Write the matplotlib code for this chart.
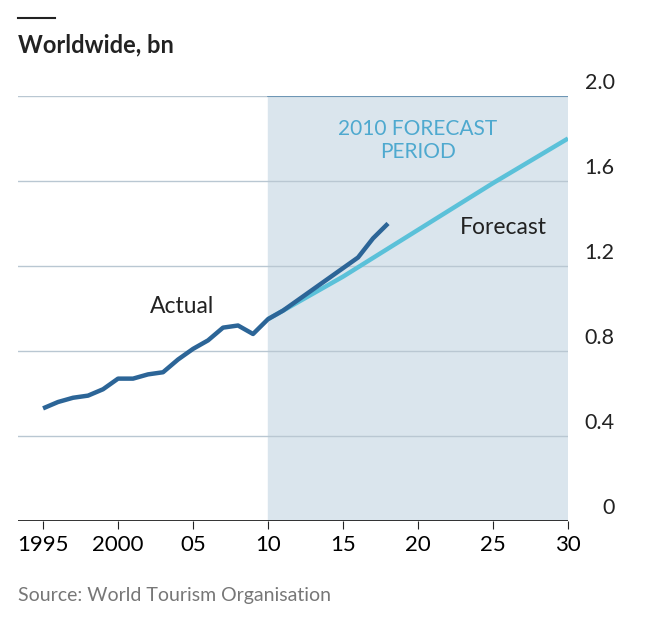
import matplotlib.pyplot as plt

actual_years = list(range(1995, 2019))
actual = [0.53, 0.56, 0.58, 0.59, 0.62, 0.67, 0.67, 0.69, 0.70, 0.76, 0.81, 0.85, 0.91, 0.92, 0.88, 0.95, 0.99, 1.04, 1.09, 1.14, 1.19, 1.24, 1.33, 1.40]
fc_years = [2010, 2015, 2020, 2025, 2030]
forecast = [0.95, 1.15, 1.37, 1.59, 1.80]
yticks = [0, 0.4, 0.8, 1.2, 1.6, 2.0]
ylabels = ["0", "0.4", "0.8", "1.2", "1.6", "2.0"]
xticks = [1995, 2000, 2005, 2010, 2015, 2020, 2025, 2030]
xlabels = ["1995", "2000", "05", "10", "15", "20", "25", "30"]

plt.rcParams['font.family'] = ['Lato', 'DejaVu Sans']
fig = plt.figure(figsize=(6.68, 6.22), dpi=100)
ax = fig.add_axes([18/668, 1-521/622, 550/668, 425/622])
ax.set_xlim(1993.33, 2030)
ax.set_ylim(0, 2.0)

ax.axvspan(2010, 2030, color='#dae5ed', zorder=0)
for y in yticks[1:]:
    ax.axhline(y, color='#b9c7d2', lw=1, zorder=1)
ax.plot([2010, 2030], [2.0, 2.0], color='#5f8db0', lw=1.2, zorder=2)
ax.axhline(0, color='#222222', lw=1.3, zorder=3)

ax.plot(fc_years, forecast, color='#5bc1d9', lw=3.2, zorder=4, solid_capstyle='butt')
ax.plot(actual_years, actual, color='#2c6597', lw=3.2, zorder=5, solid_capstyle='butt')

for y, l in zip(yticks, ylabels):
    ax.text(1.085, y + 0.015, l, transform=ax.get_yaxis_transform(), ha='right', va='bottom',
            fontsize=15.5, color='#222222')

ax.set_xticks(xticks)
ax.set_xticklabels(xlabels, fontsize=16)
ax.tick_params(axis='x', length=6, color='#222222', pad=4)
ax.set_yticks([])
for s in ax.spines.values():
    s.set_visible(False)

ax.text(2020, 1.79, "2010 FORECAST\nPERIOD", color='#4ea9cf', fontsize=15, ha='center', va='center', linespacing=1.15)
ax.text(2004.3, 1.01, "Actual", fontsize=16.5, ha='center', va='center', color='#222222')
ax.text(2025.7, 1.38, "Forecast", fontsize=16.5, ha='center', va='center', color='#222222')

fig.text(18/668, 1-45/622, "Worldwide, bn", fontsize=17, fontweight='bold', color='#222222', va='center')
fig.add_artist(plt.Line2D([18/668, 55/668], [1-18/622, 1-18/622], color='#222222', lw=1.5))
fig.text(18/668, 1-595/622, "Source: World Tourism Organisation", fontsize=14, color='#777777', va='center')

fig.savefig("out.png", dpi=100)
